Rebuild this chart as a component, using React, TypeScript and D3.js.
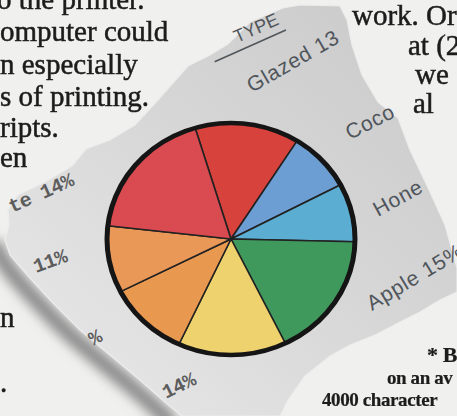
import React from "react";
import * as d3 from "d3";

// ---- chart data ----
const sliceLabels = ["Glazed 13", "Coco", "Hone", "Apple 15%", "14%", "%", "11%", "te 14%"];
const sliceValues = [13.6, 8.3, 8.1, 17.4, 14.1, 10.6, 9.3, 18.5];
const sliceColors = ["#d8423c", "#6c9ed3", "#5cadd2", "#3f985c", "#edd26e", "#e8984f", "#e99858", "#da4b51"];
const headerText = "TYPE";

// ---- surrounding page text ----
const pageLeft = ["o the printer.", "omputer could", "n especially", "s of printing.", "ripts.", "en", "n", "."];
const pageRight = ["work. Or", "at (2", "we", "al"];
const pageFoot = ["* B", "on an av", "4000 character"];

// ---- layout ----
const W = 457, H = 416;
const CX = 231, CY = 239, R = 124, RY = 116;
const START_DEG = -16.8;

const leftPos = [[-3, 9], [0, 41], [0, 74], [0, 106], [0, 137], [0, 167], [0, 327], [0, 392]];
const rightPos = [[352, 25], [408, 55], [415, 84], [413, 113]];
const footPos = [[427, 362], [387, 384], [322, 406]];

// label layout: x, y, rotation, serif?
const labelLayout = [
  { x: 252, y: 93, r: -30, serif: false },
  { x: 350, y: 140, r: -27, serif: false },
  { x: 378, y: 217, r: -29, serif: false },
  { x: 372, y: 311, r: -31, serif: false },
  { x: 166, y: 399, r: -26, serif: true },
  { x: 93, y: 346, r: -28, serif: true },
  { x: 36, y: 273, r: -20, serif: true },
  { x: 12, y: 213, r: -24, serif: true },
];

const paperPts: [number, number][] = [
  [228, 44], [250, 22], [283, 8], [300, 5], [340, 6], [347, 20], [352, 45], [362, 75], [378, 102],
  [398, 118], [410, 150], [422, 175], [430, 192], [445, 225], [452, 250], [457, 268], [457, 292],
  [440, 300], [420, 312], [400, 322], [375, 335], [350, 345], [330, 356], [305, 376], [288, 400],
  [280, 416], [182, 416], [165, 402], [140, 380], [110, 355], [80, 330], [55, 305], [30, 278],
  [10, 255], [5, 240], [9, 225], [8, 210], [18, 195], [45, 182], [72, 166], [86, 149], [110, 140],
  [135, 125], [158, 100], [188, 66], [210, 55],
];
const shadowPts: [number, number][] = [
  [0, 238], [8, 256], [28, 280], [53, 307], [78, 332], [108, 357], [138, 382], [163, 404], [180, 420],
];

export default function App() {
  const pie = d3
    .pie<number>()
    .sort(null)
    .value((d) => d)
    .startAngle((START_DEG * Math.PI) / 180)
    .endAngle((START_DEG * Math.PI) / 180 + 2 * Math.PI);
  const arcs = pie(sliceValues);
  const arc = d3.arc<d3.PieArcDatum<number>>().innerRadius(0).outerRadius(R);
  const line = d3.line().curve(d3.curveLinearClosed);
  const open = d3.line().curve(d3.curveBasis);

  const serifPage = "'Liberation Serif', 'DejaVu Serif', serif";
  const mono = "'Liberation Mono', 'DejaVu Sans Mono', monospace";
  const sans = "'Liberation Sans', Arial, sans-serif";

  return (
    <svg width={W} height={H} style={{ position: "absolute", left: 0, top: 0 }}>
      <defs>
        <linearGradient id="paperG" x1="1" y1="0" x2="0" y2="1">
          <stop offset="0" stopColor="#c9c9c9" />
          <stop offset="0.45" stopColor="#d6d6d6" />
          <stop offset="1" stopColor="#eaeaea" />
        </linearGradient>
        <filter id="blur" x="-20%" y="-20%" width="140%" height="140%">
          <feGaussianBlur stdDeviation="6" />
        </filter>
        <filter id="soft" x="-5%" y="-5%" width="110%" height="110%">
          <feGaussianBlur stdDeviation="0.4" />
        </filter>
      </defs>
      <rect x={0} y={0} width={W} height={H} fill="#f0f0ef" />

      {/* page text */}
      <g fontFamily={serifPage} fill="#1c1c1c" stroke="#1c1c1c" strokeWidth={0.5} filter="url(#soft)">
        {pageLeft.map((t, i) => (
          <text key={"l" + i} x={leftPos[i][0]} y={leftPos[i][1]} fontSize={29}>
            {t}
          </text>
        ))}
        {pageRight.map((t, i) => (
          <text key={"r" + i} x={rightPos[i][0]} y={rightPos[i][1]} fontSize={29}>
            {t}
          </text>
        ))}
        {pageFoot.map((t, i) => (
          <text key={"f" + i} x={footPos[i][0]} y={footPos[i][1]} fontSize={i === 0 ? 22 : 19} fontWeight={700} strokeWidth={0.2} letterSpacing={-0.4}>
            {t}
          </text>
        ))}
      </g>

      {/* shadow and torn paper */}
      <path d={open(shadowPts) || ""} transform="translate(-7,4)" fill="none" stroke="#8a8a8a" strokeWidth={16} filter="url(#blur)" />
      <path d={line(paperPts) || ""} fill="url(#paperG)" stroke="#ececec" strokeWidth={1.2} />

      {/* header */}
      <g transform={`translate(237,43) rotate(-24)`} fill="#50555a" fontFamily={sans}>
        <text x={0} y={0} fontSize={18}>{headerText}</text>
        <line x1={-28} x2={50} y1={8} y2={8} stroke="#50555a" strokeWidth={1.6} />
      </g>

      {/* slice labels */}
      {sliceLabels.map((t, i) => {
        const L = labelLayout[i];
        return (
          <text
            key={"lab" + i}
            transform={`translate(${L.x},${L.y}) rotate(${L.r})`}
            fontFamily={L.serif ? mono : sans}
            fontSize={L.serif ? 20 : 21}
            fontWeight={L.serif ? 700 : 400}
            letterSpacing={L.serif ? -0.5 : 0.8}
            fill={L.serif ? "#5c5c5c" : "#4f555b"}
          >
            {t}
          </text>
        );
      })}

      {/* pie */}
      <g transform={`translate(${CX},${CY}) scale(1,${RY / R})`}>
        {arcs.map((a, i) => (
          <path key={"s" + i} d={arc(a) || ""} fill={sliceColors[i]} stroke="#222" strokeWidth={1.6} strokeLinejoin="round" />
        ))}
        <circle r={R} fill="none" stroke="#151515" strokeWidth={5} />
      </g>
    </svg>
  );
}
